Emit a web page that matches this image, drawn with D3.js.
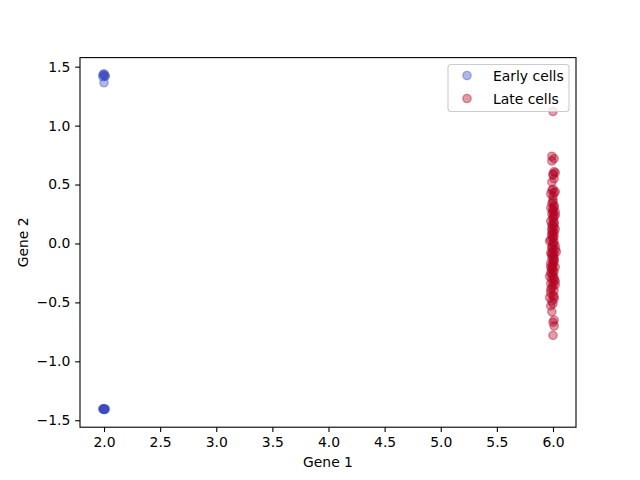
<!DOCTYPE html>
<html><head><meta charset="utf-8">
<script src="https://cdn.jsdelivr.net/npm/d3@7"></script>
<style>body{margin:0;background:#fff}svg{display:block}text{font-family:"DejaVu Sans",sans-serif}</style>
</head><body>
<script>
const earlyX = [2.00,2.01,1.99,2.00,2.01,2.00,1.99,2.00,2.00,2.01,1.99,2.00,2.00,2.01,1.99,2.00];
const earlyY = [1.44,1.42,1.415,1.43,1.42,1.364,1.43,-1.406,-1.405,-1.407,-1.404,-1.406,-1.408,-1.405,-1.406,-1.407];
const lateX = [6.00,5.99,6.01,5.99,6.01,6.02,6.00,6.01,5.99,6.00,5.99,6.01,6.02,5.98,6.00,5.99,6.01,5.98,6.00,6.02,5.99,6.01,6.00,5.98,6.01,6.00,5.99,6.02,6.00,5.99,6.01,6.00,5.98,6.01,6.00,5.97,5.99,6.02,6.00,5.98,6.01,6.03,6.00,5.99,6.01,5.98,6.00,6.02,5.99,6.01,5.98,6.00,6.01,5.99,6.02,5.98,6.00,5.99,6.01,5.98,6.00,5.97,6.01,5.99,6.00,5.98,5.99,6.01,6.00,6.01,6.00,6.00,5.99,6.01,6.00,5.99,6.00,6.01,5.99,6.00,6.01,6.00,5.98,6.02,5.97,
  6.00,6.01,5.99,6.00,6.02,5.99,6.01,6.00,5.99,6.01,6.00,5.98,6.01,6.00,5.99,6.01,6.00,6.02,5.99,6.00];
const lateY = [1.12,0.74,0.72,0.70,0.61,0.60,0.58,0.55,0.52,0.46,0.45,0.43,0.44,0.42,0.37,0.34,0.32,0.30,0.29,0.27,0.25,0.23,0.21,0.19,0.17,0.15,0.13,0.12,0.10,0.08,0.06,0.05,0.03,0.01,-0.01,0.02,-0.03,-0.05,-0.06,-0.08,-0.09,-0.07,-0.11,-0.13,-0.15,-0.17,-0.19,-0.20,-0.22,-0.24,-0.25,-0.27,-0.29,-0.30,-0.32,-0.34,-0.36,-0.38,-0.40,-0.42,-0.44,-0.46,-0.47,-0.49,-0.51,-0.53,-0.58,-0.65,-0.67,-0.70,-0.78,0.00,-0.04,-0.12,-0.18,-0.26,-0.23,0.09,0.16,0.26,0.31,0.40,-0.20,-0.35,-0.28,
  0.22,0.14,0.07,0.04,-0.02,-0.10,-0.14,-0.16,-0.21,-0.31,-0.33,-0.39,0.18,0.28,0.11,-0.45,0.59,0.24,-0.08,0.35];
const seriesNames = ["Early cells","Late cells"];
const seriesColors = ["#3b4cc0","#b40426"];
const xTicks = [2.0,2.5,3.0,3.5,4.0,4.5,5.0,5.5,6.0];
const yTicks = [-1.5,-1.0,-0.5,0.0,0.5,1.0,1.5];

const W=640,H=480,L=80,R=576,T=57.6,B=427.2;
const svg=d3.select("body").append("svg").attr("width",W).attr("height",H);
const x=d3.scaleLinear().domain([1.786,6.205]).range([L,R]);
const y=d3.scaleLinear().domain([-1.559,1.577]).range([B,T]);

function draw(xs,ys,col){
  const g=svg.append("g");
  xs.forEach((v,i)=>{
    g.append("circle").attr("cx",x(v)).attr("cy",y(ys[i])).attr("r",4.17)
     .attr("fill",col).attr("fill-opacity",0.4)
     .attr("stroke",col).attr("stroke-opacity",0.4).attr("stroke-width",1.39);
  });
}
draw(earlyX,earlyY,seriesColors[0]);
draw(lateX,lateY,seriesColors[1]);

const fmt=d3.format(".1f");
const xa=svg.append("g").attr("transform",`translate(0,${B})`)
  .call(d3.axisBottom(x).tickValues(xTicks).tickFormat(fmt).tickSize(4.86).tickPadding(4.86));
const ya=svg.append("g").attr("transform",`translate(${L},0)`)
  .call(d3.axisLeft(y).tickValues(yTicks).tickFormat(d=>fmt(d).replace("-","\u2212")).tickSize(4.86).tickPadding(4.86));
[xa,ya].forEach(a=>{
  a.select(".domain").remove();
  a.selectAll("line").attr("stroke","#000").attr("stroke-width",1.1);
  a.selectAll("text").attr("font-family","DejaVu Sans").attr("font-size",13.9).attr("fill","#000");
});
svg.append("rect").attr("x",L).attr("y",T).attr("width",R-L).attr("height",B-T)
  .attr("fill","none").attr("stroke","#000").attr("stroke-width",1.1);

svg.append("text").attr("x",(L+R)/2).attr("y",467).attr("text-anchor","middle")
  .attr("font-size",13.9).text("Gene 1");
svg.append("text").attr("transform",`translate(28,${(T+B)/2}) rotate(-90)`).attr("text-anchor","middle")
  .attr("font-size",13.9).text("Gene 2");

// legend
const lg=svg.append("g");
lg.append("rect").attr("x",448).attr("y",64.5).attr("width",121).attr("height",47).attr("rx",3)
  .attr("fill","#fff").attr("fill-opacity",0.8).attr("stroke","#ccc").attr("stroke-width",1.1);
seriesNames.forEach((n,i)=>{
  const cy=75.5+i*23;
  lg.append("circle").attr("cx",467).attr("cy",cy).attr("r",4.17)
    .attr("fill",seriesColors[i]).attr("fill-opacity",0.4)
    .attr("stroke",seriesColors[i]).attr("stroke-opacity",0.4).attr("stroke-width",1.39);
  lg.append("text").attr("x",493).attr("y",cy+5).attr("font-size",13.9).text(n);
});
</script>
</body></html>
